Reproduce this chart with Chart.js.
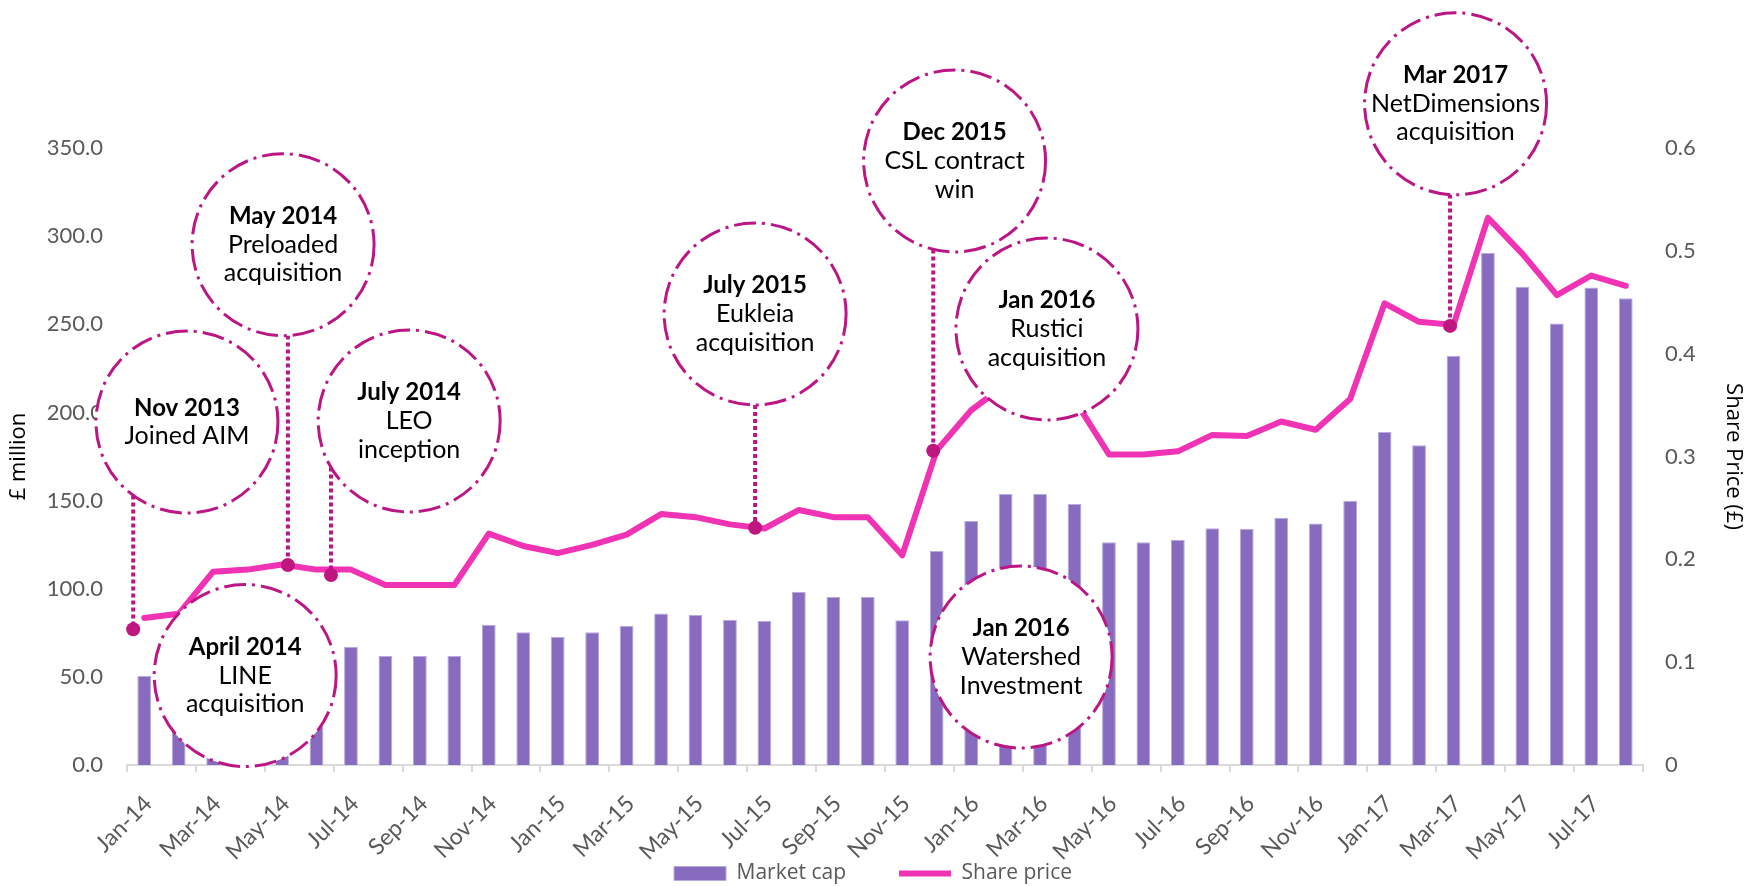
<!DOCTYPE html>
<html>
<head>
<meta charset="utf-8">
<script src="https://cdn.jsdelivr.net/npm/chart.js@4"></script>
<style>
  html, body { margin: 0; padding: 0; background: #fff; }
  #wrap { width: 1746px; height: 886px; }
</style>
</head>
<body>
<div id="wrap"><canvas id="myChart"></canvas></div>
<script>
// months on the x axis
const months = ['Jan-14','Feb-14','Mar-14','Apr-14','May-14','Jun-14','Jul-14','Aug-14','Sep-14','Oct-14','Nov-14','Dec-14',
  'Jan-15','Feb-15','Mar-15','Apr-15','May-15','Jun-15','Jul-15','Aug-15','Sep-15','Oct-15','Nov-15','Dec-15',
  'Jan-16','Feb-16','Mar-16','Apr-16','May-16','Jun-16','Jul-16','Aug-16','Sep-16','Oct-16','Nov-16','Dec-16',
  'Jan-17','Feb-17','Mar-17','Apr-17','May-17','Jun-17','Jul-17','Aug-17'];

// £ million
const marketCap = [50.5, 52, 66, 67, 69, 67, 67.1, 61.8, 61.8, 61.8, 79.6, 75.3,
  72.6, 75.3, 79.0, 86.0, 85.1, 82.4, 81.7, 98.3, 95.3, 95.3, 82.1, 121.4,
  138.4, 153.7, 153.7, 148.1, 126.3, 126.3, 127.8, 134.3, 134.0, 140.2, 137.0, 149.9,
  188.9, 181.4, 232.1, 290.4, 271.3, 250.4, 270.8, 264.8];

// £ per share
const sharePrice = [0.143, 0.147, 0.188, 0.190, 0.195, 0.190, 0.190, 0.175, 0.175, 0.175, 0.225, 0.213,
  0.206, 0.214, 0.224, 0.244, 0.241, 0.234, 0.230, 0.248, 0.241, 0.241, 0.204, 0.306,
  0.345, 0.370, 0.370, 0.355, 0.302, 0.302, 0.305, 0.321, 0.320, 0.334, 0.326, 0.356,
  0.449, 0.431, 0.428, 0.532, 0.497, 0.457, 0.476, 0.466];

const leftTicks = [0, 50, 100, 150, 200, 250, 300, 350];
const rightTicks = [0, 0.1, 0.2, 0.3, 0.4, 0.5, 0.6];

// events: title, description lines
const eventDates = ['Nov 2013', 'May 2014', 'July 2014', 'April 2014', 'July 2015', 'Dec 2015', 'Jan 2016', 'Jan 2016', 'Mar 2017'];
const eventText = [
  ['Joined AIM'],
  ['Preloaded', 'acquisition'],
  ['LEO', 'inception'],
  ['LINE', 'acquisition'],
  ['Eukleia', 'acquisition'],
  ['CSL contract', 'win'],
  ['Rustici', 'acquisition'],
  ['Watershed', 'Investment'],
  ['NetDimensions', 'acquisition']
];
// where the marker sits (month index, share price); null = no marker
const eventMonth = [-0.32, 4.17, 5.42, null, 17.73, 22.9, null, null, 37.9];
const eventPrice = [0.132, 0.1945, 0.1848, null, 0.2307, 0.3056, null, null, 0.427];
// where the bubble is centred (month index, share price)
const bubbleMonth = [1.24, 4.03, 7.69, 2.93, 17.73, 23.52, 26.2, 25.45, 38.06];
const bubblePrice = [0.3335, 0.506, 0.3345, 0.087, 0.4386, 0.5874, 0.424, 0.105, 0.643];

const BUBBLE_R = 91;
const MAGENTA = '#bb1684';

const bubbles = {
  id: 'bubbles',
  afterLayout(chart) {
    // let the rotated month labels hang below the axis box without being clipped
    chart.scales.x.bottom = chart.height;
  },
  afterDraw(chart) {
    const ctx = chart.ctx;
    const x = chart.scales.x;
    const y1 = chart.scales.y1;
    ctx.save();

    // dotted connectors
    eventDates.forEach((d, i) => {
      if (eventMonth[i] === null) return;
      const cx = x.getPixelForValue(bubbleMonth[i]);
      const cy = y1.getPixelForValue(bubblePrice[i]);
      const mx = x.getPixelForValue(eventMonth[i]);
      const my = y1.getPixelForValue(eventPrice[i]);
      const dx = mx - cx;
      const edge = cy + Math.sqrt(Math.max(BUBBLE_R * BUBBLE_R - dx * dx, 0));
      ctx.setLineDash([4, 3]);
      ctx.lineWidth = 4;
      ctx.lineCap = 'butt';
      ctx.strokeStyle = MAGENTA;
      ctx.beginPath();
      ctx.moveTo(mx, edge);
      ctx.lineTo(mx, my);
      ctx.stroke();
    });

    // bubbles
    eventDates.forEach((d, i) => {
      const cx = x.getPixelForValue(bubbleMonth[i]);
      const cy = y1.getPixelForValue(bubblePrice[i]);
      ctx.setLineDash([22, 6, 3, 6]);
      ctx.lineWidth = 3;
      ctx.strokeStyle = MAGENTA;
      ctx.fillStyle = '#ffffff';
      ctx.beginPath();
      ctx.arc(cx, cy, BUBBLE_R, 0, Math.PI * 2);
      ctx.fill();
      ctx.stroke();

      const lines = [d].concat(eventText[i]);
      const lh = 28.5;
      let ty = cy - (lines.length - 1) / 2 * lh;
      ctx.fillStyle = '#000';
      ctx.textAlign = 'center';
      ctx.textBaseline = 'middle';
      lines.forEach((t, j) => {
        ctx.font = j === 0 ? 'bold 24px Lato' : '25px Lato';
        ctx.fillText(t, cx, ty);
        ty += lh;
      });
    });

    // markers
    ctx.setLineDash([]);
    eventDates.forEach((d, i) => {
      if (eventMonth[i] === null) return;
      const mx = x.getPixelForValue(eventMonth[i]);
      const my = y1.getPixelForValue(eventPrice[i]);
      ctx.fillStyle = '#c0167f';
      ctx.beginPath();
      ctx.arc(mx, my, 7, 0, Math.PI * 2);
      ctx.fill();
    });
    ctx.restore();
  }
};

const tickFont = { family: 'Lato', size: 22 };

new Chart(document.getElementById('myChart'), {
  type: 'bar',
  data: {
    labels: months,
    datasets: [
      {
        type: 'bar',
        label: 'Market cap',
        data: marketCap,
        yAxisID: 'y',
        backgroundColor: '#866bbf',
        borderColor: '#b9aadd',
        borderWidth: 1,
        barPercentage: 0.4,
        categoryPercentage: 1,
        pointStyle: 'rect',
        order: 1
      },
      {
        type: 'line',
        label: 'Share price',
        data: sharePrice,
        yAxisID: 'y1',
        borderColor: '#f032b4',
        backgroundColor: '#f032b4',
        borderWidth: 6,
        borderCapStyle: 'round',
        borderJoinStyle: 'round',
        pointRadius: 0,
        tension: 0,
        pointStyle: 'line',
        order: 0
      }
    ]
  },
  options: {
    responsive: true,
    maintainAspectRatio: false,
    animation: false,
    layout: { padding: { top: 148, left: 0, right: 0, bottom: -8 } },
    plugins: {
      tooltip: { enabled: false },
      legend: {
        position: 'bottom',
        labels: {
          usePointStyle: true,
          pointStyleWidth: 52,
          boxHeight: 14,
          padding: 53,
          color: '#595959',
          font: { family: 'Open Sans', size: 21 },
          sort: (a, b) => a.datasetIndex - b.datasetIndex
        }
      }
    },
    scales: {
      x: {
        offset: true,
        grid: {
          offset: true,
          drawOnChartArea: false,
          tickLength: 7,
          lineWidth: 2,
          color: c => (c.index === undefined || c.index % 2 === 0) ? '#d9d9d9' : 'rgba(0,0,0,0)'
        },
        border: { display: true, color: '#d9d9d9', width: 2 },
        ticks: {
          autoSkip: false,
          minRotation: 45,
          maxRotation: 45,
          padding: 18,
          labelOffset: 4,
          color: '#595959',
          font: { family: 'Lato', size: 23 },
          callback: (v, i) => i % 2 === 0 ? months[i] : ''
        },
        afterFit: s => { s.height = 45; }
      },
      y: {
        position: 'left',
        min: 0,
        max: 350,
        afterBuildTicks: s => { s.ticks = leftTicks.map(v => ({ value: v })); },
        ticks: {
          padding: 24,
          color: '#595959',
          font: tickFont,
          callback: v => v.toFixed(1)
        },
        grid: { display: false, drawTicks: false },
        border: { display: false },
        title: {
          display: true,
          text: '£ million',
          color: '#000',
          font: { family: 'Open Sans', size: 22 },
          padding: { top: 6, bottom: 0 }
        },
        afterFit: s => { s.width = 127; }
      },
      y1: {
        position: 'right',
        min: 0,
        max: 0.6,
        afterBuildTicks: s => { s.ticks = rightTicks.map(v => ({ value: v })); },
        ticks: {
          padding: 22,
          color: '#595959',
          font: tickFont,
          callback: v => v === 0 ? '0' : v.toFixed(1)
        },
        grid: { display: false, drawTicks: false },
        border: { display: false },
        title: {
          display: true,
          text: 'Share Price (£)',
          color: '#000',
          font: { family: 'Open Sans', size: 22 },
          padding: { top: 0, bottom: 0 }
        },
        afterFit: s => { s.width = 103; }
      }
    }
  },
  plugins: [bubbles]
});
</script>
</body>
</html>
